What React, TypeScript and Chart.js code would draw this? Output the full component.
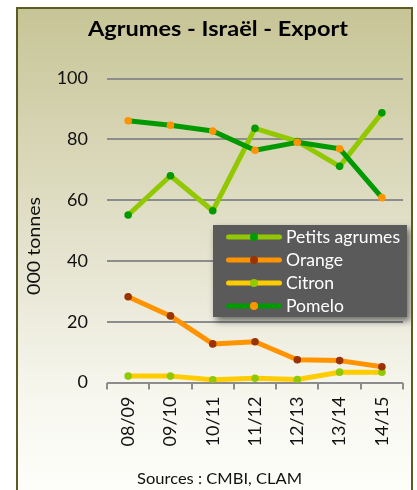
import React, { useEffect, useRef } from "react";
import { Chart, registerables } from "chart.js";

Chart.register(...registerables);

const TITLE = "Agrumes - Israël - Export";
const Y_TITLE = "000 tonnes";
const SOURCE = "Sources : CMBI, CLAM";

const categories = ["08/09", "09/10", "10/11", "11/12", "12/13", "13/14", "14/15"];
const petitsAgrumes = [55.1, 68.0, 56.5, 83.6, 79.3, 71.1, 88.7];
const orange = [28.2, 21.9, 12.7, 13.4, 7.5, 7.2, 5.2];
const citron = [2.1, 2.1, 0.9, 1.4, 1.0, 3.4, 3.4];
const pomelo = [86.1, 84.6, 82.7, 76.4, 79.0, 76.9, 60.8];

const seriesNames = ["Petits agrumes", "Orange", "Citron", "Pomelo"];
const lineColors = ["#92c800", "#ff9400", "#ffcc00", "#009a00"];
const pointColors = ["#009a00", "#9a3300", "#92c800", "#ff9400"];

const Y_MIN = 0;
const Y_MAX = 100;
const Y_STEP = 20;

const FONT = "Lato";

function drawFitted(
  ctx: CanvasRenderingContext2D,
  text: string,
  x: number,
  y: number,
  target: number,
  font: string,
  color: string,
  align: CanvasTextAlign,
  baseline: CanvasTextBaseline = "alphabetic"
) {
  ctx.save();
  ctx.font = font;
  const w = ctx.measureText(text).width;
  const sx = w > 0 ? target / w : 1;
  ctx.translate(x, y);
  ctx.scale(sx, 1);
  ctx.fillStyle = color;
  ctx.textAlign = align;
  ctx.textBaseline = baseline;
  ctx.fillText(text, 0, 0);
  ctx.restore();
}

const overlayPlugin = {
  id: "overlay",
  afterDraw(chart: any) {
    const ctx: CanvasRenderingContext2D = chart.ctx;
    ctx.save();
    // Title
    drawFitted(ctx, TITLE, 200, 26.7, 260, `bold 21px ${FONT}`, "#000", "center");
    // Y axis title
    ctx.save();
    ctx.translate(17, 237);
    ctx.rotate(-Math.PI / 2);
    drawFitted(ctx, Y_TITLE, 0, 0, 98, `17px ${FONT}`, "#111", "center", "middle");
    ctx.restore();
    // Source
    drawFitted(ctx, SOURCE, 201.5, 475, 165, `16px ${FONT}`, "#111", "center");

    // Legend
    const bx = 195, by = 216, bw = 194, bh = 92;
    ctx.save();
    ctx.shadowColor = "rgba(0,0,0,0.55)";
    ctx.shadowBlur = 7;
    ctx.shadowOffsetX = 3;
    ctx.shadowOffsetY = 4;
    ctx.fillStyle = "#5a5a5a";
    ctx.fillRect(bx, by, bw, bh);
    ctx.restore();

    const datasets = chart.data.datasets;
    ctx.font = `17px ${FONT}`;
    const refW = ctx.measureText(datasets[0].label).width;
    const sx = 114 / refW;
    datasets.forEach((ds: any, i: number) => {
      const cy = 228 + i * 23;
      ctx.save();
      ctx.strokeStyle = ds.borderColor;
      ctx.lineWidth = 5;
      ctx.lineCap = "round";
      ctx.beginPath();
      ctx.moveTo(210.5, cy);
      ctx.lineTo(261.5, cy);
      ctx.stroke();
      ctx.fillStyle = ds.pointBackgroundColor;
      ctx.beginPath();
      ctx.arc(236, cy, 4, 0, Math.PI * 2);
      ctx.fill();
      ctx.restore();
      ctx.save();
      ctx.font = `17px ${FONT}`;
      ctx.translate(268, cy + 1);
      ctx.scale(sx, 1);
      ctx.fillStyle = "#ffffff";
      ctx.textAlign = "left";
      ctx.textBaseline = "middle";
      ctx.fillText(ds.label, 0, 0);
      ctx.restore();
    });
    ctx.restore();
  },
};

export default function App() {
  const ref = useRef<HTMLCanvasElement | null>(null);

  useEffect(() => {
    if (!ref.current) return;
    const seriesData = [petitsAgrumes, orange, citron, pomelo];
    const chart = new Chart(ref.current, {
      type: "line",
      data: {
        labels: categories,
        datasets: seriesData.map((d, i) => ({
          label: seriesNames[i],
          data: d,
          borderColor: lineColors[i],
          backgroundColor: lineColors[i],
          pointBackgroundColor: pointColors[i],
          pointBorderWidth: 0,
          pointRadius: 3.8,
          borderWidth: 5,
          tension: 0,
          borderJoinStyle: "round" as const,
          order: i === 3 ? 0 : i + 1,
        })),
      },
      options: {
        responsive: false,
        animation: false,
        devicePixelRatio: 1,
        layout: { padding: { top: 69.5, left: 0, right: 7, bottom: 0 } },
        plugins: {
          legend: { display: false },
          title: { display: false },
          tooltip: { enabled: false },
        },
        scales: {
          x: {
            type: "category",
            offset: true,
            grid: {
              offset: true,
              drawOnChartArea: false,
              drawTicks: true,
              tickLength: 7,
              color: "#8c8c8c",
              lineWidth: 2,
            },
            border: { display: false },
            ticks: {
              minRotation: 90,
              maxRotation: 90,
              padding: 7,
              color: "#111",
              font: { family: FONT, size: 18 },
            },
            afterFit: (scale: any) => {
              scale.height = 107.5;
            },
          },
          y: {
            min: Y_MIN,
            max: Y_MAX,
            grid: {
              drawTicks: false,
              color: "#8c8c8c",
              lineWidth: 2,
            },
            border: { display: false },
            ticks: {
              stepSize: Y_STEP,
              padding: 19,
              color: "#111",
              font: { family: FONT, size: 18 },
            },
            afterFit: (scale: any) => {
              scale.width = 89;
            },
          },
        },
      },
      plugins: [overlayPlugin],
    });
    return () => chart.destroy();
  }, []);

  return (
    <div
      style={{
        position: "fixed",
        left: 0,
        top: 0,
        width: 417,
        height: 490,
        overflow: "hidden",
        background: "#ffffff",
      }}
    >
      <div
        style={{
          position: "absolute",
          left: 16,
          top: 7,
          width: 397,
          height: 500,
          boxSizing: "border-box",
          border: "2px solid #5b5b25",
          background:
            "linear-gradient(to bottom, #c7c596 0%, #d9d7b8 30%, #ebeadb 60%, #f8f8f0 80%, #fefefc 100%)",
        }}
      >
        <canvas ref={ref} width={393} height={481} style={{ display: "block" }} />
      </div>
    </div>
  );
}
